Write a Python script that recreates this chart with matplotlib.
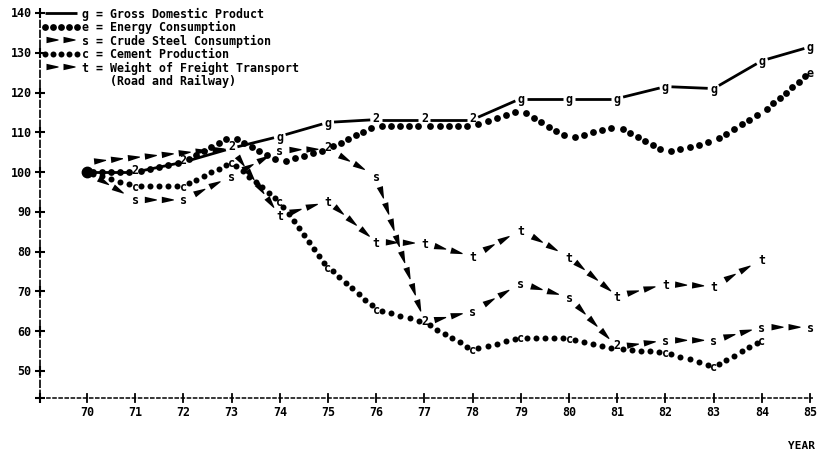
import numpy as np
import matplotlib.pyplot as plt
from matplotlib.patches import Polygon

plt.rcParams['font.family'] = ['DejaVu Sans Mono']
plt.rcParams['font.weight'] = 'bold'

# index values, 1970 = 100
years = np.arange(70, 86)
gdp = [100, 100, 102.5, 106, 109, 112.5, 113.2, 113.2, 113.2, 118.5, 118.5, 118.5, 121.5, 121, 128, 131.5]
energy = [100, 100, 102.5, 109, 102.5, 105.8, 111.7, 111.7, 111.7, 115.5, 108.5, 111.5, 105, 107.8, 115, 125]
steel = [100, 93, 93, 99, 105.5, 105.8, 99, 62.2, 65, 72, 68.5, 56, 57.7, 57.7, 61, 61]
cement = [100, 96.5, 96.5, 102.5, 92.5, 76, 65.5, 62.2, 55.4, 58.4, 58.2, 55.5, 54.7, 51.1, 57.7, np.nan]
freight = [102.5, np.nan, np.nan, 106, 89, 92.7, 82.4, 82.1, 78.8, 85.4, 78.6, 68.8, 71.8, 71.3, 78, np.nan]

legend_names = ['Gross Domestic Product', 'Energy Consumption', 'Crude Steel Consumption',
                'Cement Production', 'Weight of Freight Transport']
yticks = np.arange(50, 141, 10)

# symbol, values, line style, letter shown at points
series = [('g', gdp, 'solid', True),
          ('e', energy, 'bigdots', False),
          ('s', steel, 'wedge', True),
          ('c', cement, 'dots', True),
          ('t', freight, 'wedge', True)]

W, H = 817, 452
fig = plt.figure(figsize=(W / 100, H / 100), dpi=100)
ax = fig.add_axes([40 / W, 1 - 399 / H, 773 / W, 385 / H])
ax.set_xlim(69.025, 85.06)
ax.set_ylim(43.2, 140)
ax.axis('off')


def to_px(xs, ys):
    return ax.transData.transform(np.column_stack([xs, ys]))


def to_data(p):
    return ax.transData.inverted().transform(np.atleast_2d(p))


def draw_piece(p0, p1, style):
    d = p1 - p0
    L = np.hypot(*d)
    if L < 1:
        return
    u = d / L
    if style == 'solid':
        q = to_data([p0, p1])
        ax.plot(q[:, 0], q[:, 1], color='black', lw=2.0, solid_capstyle='butt', clip_on=False)
    elif style in ('dots', 'bigdots'):
        size = 6.8 if style == 'bigdots' else 6.0
        n = max(int(round(L / 9.0)), 1)
        t = np.linspace(0, 1, n + 1)
        q = to_data(p0 + np.outer(t, d))
        ax.plot(q[:, 0], q[:, 1], 'o', ms=size * 0.72, color='black', mec='none', clip_on=False)
    else:
        length, gap, w = 12.0, 5.0, 3.2
        n = int((L + gap) // (length + gap))
        if n == 0:
            n, length = 1, L
        off = (L - (n * (length + gap) - gap)) / 2
        nrm = np.array([-u[1], u[0]])
        for k in range(n):
            back = p0 + u * (off + k * (length + gap))
            tip = back + u * length
            poly = [back + nrm * w, tip + nrm * 0.5, tip - nrm * 0.5, back - nrm * w]
            ax.add_patch(Polygon(to_data(poly), closed=True, color='black', lw=0, clip_on=False))


def draw_series(vals, style, trim=6.0):
    v = np.array(vals, dtype=float)
    ok = ~np.isnan(v)
    p = to_px(years[ok], v[ok])
    for a, b in zip(p[:-1], p[1:]):
        u = (b - a) / np.hypot(*(b - a))
        draw_piece(a + u * trim, b - u * trim, style)


for sym, vals, style, show in series:
    draw_series(vals, style)

# point labels: letter, '2' when two series meet, big dot where all start
lab_kw = dict(ha='center', va='center', fontsize=8.5, fontweight='bold', zorder=5)
for i, yr in enumerate(years):
    pts = [(sym, vals[i], show, i == max(np.flatnonzero(~np.isnan(np.array(vals, float)))))
           for sym, vals, style, show in series if not np.isnan(vals[i])]
    used = set()
    for sym, v, show, last in pts:
        if sym in used:
            continue
        group = [q for q in pts if q[0] not in used and abs(q[1] - v) < 1.8]
        used |= {q[0] for q in group}
        if len(group) >= 3:
            ax.plot(yr, v, 'o', ms=7.5, color='black', clip_on=False, zorder=5)
        elif len(group) == 2:
            ax.text(yr, max(q[1] for q in group) + 0.6, '2', **lab_kw)
        elif i > 0 and (show or last):
            ax.text(yr, v, sym, **lab_kw)

# axes drawn like the printout
x0, y0 = ax.get_xlim()[0], ax.get_ylim()[0]
ax.plot([x0, x0], [y0, 140], color='black', lw=1.2, ls=(0, (5, 1)), clip_on=False)
ax.plot([x0] * len(yticks), yticks, '+', ms=7, mew=1.5, color='black', clip_on=False)
ax.plot(x0, y0, '+', ms=7, mew=1.5, color='black', clip_on=False)
for v in yticks:
    ax.annotate(str(v), (x0, v), xytext=(-6, 0), textcoords='offset points',
                ha='right', va='center', fontsize=8.4, fontweight='bold')
ax.plot([x0, ax.get_xlim()[1]], [y0, y0], color='black', lw=1.1, ls=(0, (3, 1)), clip_on=False)
for yr in years:
    p = to_px([yr], [y0])[0]
    q = to_data([p + [0, 4], p - [0, 4]])
    ax.plot(q[:, 0], q[:, 1], color='black', lw=1.3, clip_on=False)
    ax.annotate(str(yr), (yr, y0), xytext=(0, -10), textcoords='offset points',
                ha='center', va='center', fontsize=8.4, fontweight='bold')
fig.text(815 / W, 1 - 446 / H, 'YEAR', ha='right', va='center', fontsize=8, fontweight='bold')

# legend in the top left corner
row_y = [14, 27.5, 41, 54.5, 68]
for k, (sym, vals, style, show) in enumerate(series):
    py = H - row_y[k]
    draw_piece(np.array([45.0, py]), np.array([77.0, py]), style)
    fig.text(82 / W, py / H, f'{sym} = {legend_names[k]}', ha='left', va='center',
             fontsize=8.4, fontweight='bold')
fig.text(82 / W, 1 - 81.5 / H, '    (Road and Railway)', ha='left', va='center',
         fontsize=8.4, fontweight='bold')

fig.savefig('out.png', dpi=100)
